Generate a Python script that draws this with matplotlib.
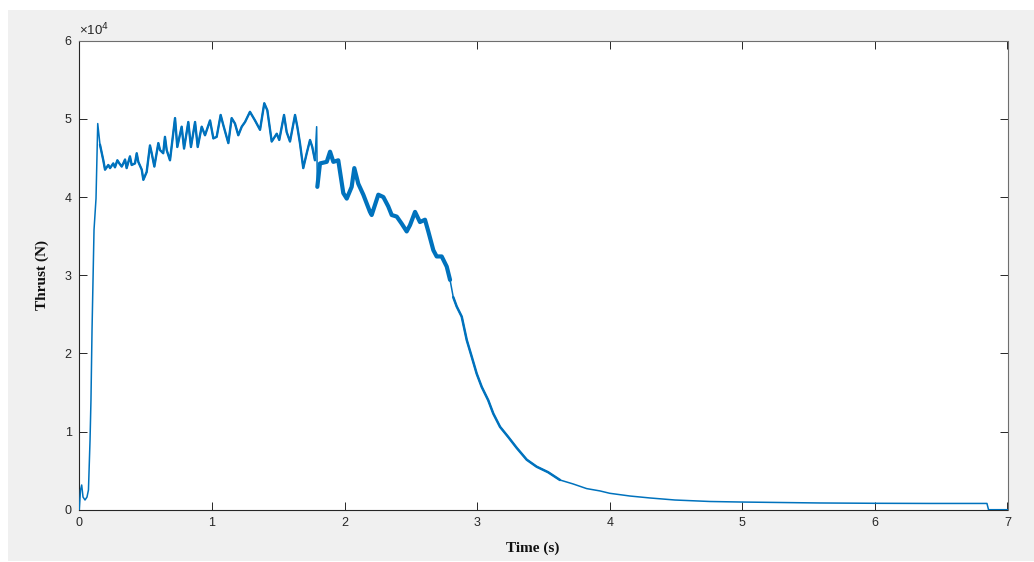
import numpy as np
import matplotlib
matplotlib.use("Agg")
import matplotlib.pyplot as plt
from matplotlib.patches import Rectangle

# Thrust curve (time in s, thrust in N)
time_s = [0.000, 0.009, 0.018, 0.028, 0.043, 0.058, 0.069, 0.081, 0.088, 0.096,
          0.111, 0.126, 0.139, 0.156, 0.181, 0.194, 0.219, 0.232, 0.256, 0.269,
          0.287, 0.302, 0.320, 0.332, 0.345, 0.357, 0.382, 0.395, 0.420, 0.433,
          0.445, 0.471, 0.483, 0.508, 0.533, 0.546, 0.566, 0.596, 0.609, 0.633,
          0.646, 0.659, 0.684, 0.722, 0.739, 0.772, 0.790, 0.822, 0.842, 0.873,
          0.893, 0.923, 0.948, 0.986, 1.011, 1.036, 1.066, 1.086, 1.124, 1.149,
          1.174, 1.199, 1.225, 1.250, 1.287, 1.325, 1.363, 1.395, 1.418, 1.451,
          1.489, 1.508, 1.544, 1.564, 1.589, 1.627, 1.644, 1.664, 1.689, 1.715,
          1.740, 1.757, 1.777, 1.790, 1.795, 1.815, 1.866, 1.891, 1.916, 1.953,
          1.991, 2.017, 2.054, 2.074, 2.104, 2.142, 2.192, 2.205, 2.255, 2.293,
          2.330, 2.356, 2.394, 2.431, 2.469, 2.494, 2.532, 2.569, 2.607, 2.632,
          2.670, 2.695, 2.733, 2.771, 2.796, 2.820, 2.846, 2.884, 2.922, 2.959,
          2.997, 3.035, 3.084, 3.122, 3.173, 3.235, 3.299, 3.374, 3.449, 3.535,
          3.625, 3.723, 3.826, 3.927, 4.000, 4.153, 4.304, 4.492, 4.756, 4.998,
          5.284, 5.586, 5.993, 6.415, 6.845, 6.857, 7.000]

thrust_N = [0, 2520, 3160, 1620, 1240, 1620, 2520, 8920, 14030, 23000,
            35800, 39800, 49400, 46700, 44700, 43500, 44100, 43700, 44300, 43800,
            44700, 44300, 43900, 44300, 44800, 43700, 45200, 44100, 44300, 45600,
            44500, 43500, 42200, 43200, 46600, 45600, 43900, 46900, 46000, 45600,
            47700, 46000, 44700, 50100, 46400, 49000, 46200, 49600, 46400, 49600,
            46400, 49000, 47900, 49800, 47500, 47700, 50500, 49200, 46900, 50100,
            49400, 47900, 49000, 49600, 50900, 49800, 48600, 52000, 51100, 47100,
            48100, 47300, 50500, 48300, 47100, 50500, 49000, 46900, 43700, 45600,
            47300, 46400, 44700, 49000, 41300, 44300, 44500, 45800, 44500, 44700,
            40500, 39800, 41300, 43700, 41700, 40300, 38100, 37700, 40300, 40000,
            38800, 37700, 37500, 36600, 35600, 36400, 38100, 36800, 37100, 35600,
            33200, 32400, 32400, 31100, 29400, 27200, 26000, 24700, 21700, 19600,
            17400, 15700, 14000, 12300, 10600, 9300, 7900, 6400, 5500, 4800,
            3800, 3300, 2700, 2400, 2100, 1750, 1500, 1240, 1050, 980,
            920, 860, 820, 800, 800, 0, 0]

x_ticks = [0, 1, 2, 3, 4, 5, 6, 7]
y_ticks = [0, 10000, 20000, 30000, 40000, 50000, 60000]
y_tick_labels = ["0", "1", "2", "3", "4", "5", "6"]

LINE = "#0072BD"
AXC = "#262626"

fig = plt.figure(figsize=(10.34, 5.62), dpi=100, facecolor="white")
bg = Rectangle((8 / 1034, 1 / 562), 1 - 8 / 1034, (562 - 11) / 562,
               transform=fig.transFigure, facecolor="#f0f0f0",
               edgecolor="none", zorder=-10)
fig.add_artist(bg)

ax = fig.add_axes([79.3 / 1034, (562 - 509.7) / 562, 928.2 / 1034, 469.0 / 562])
ax.set_zorder(1)
ax.set_facecolor("white")

t = np.array(time_s)
f = np.array(thrust_N)

ax.plot(t, f, color=LINE, lw=1.1, solid_joinstyle="round", zorder=3)
# noisier (visually thicker) stretches of the trace
for lo, hi, lw in [(0.15, 1.78, 1.7), (1.795, 2.80, 3.0), (2.80, 3.65, 1.8)]:
    m = (t >= lo) & (t <= hi)
    ax.plot(t[m], f[m], color=LINE, lw=lw, solid_joinstyle="round",
            solid_capstyle="round", zorder=3)

ax.set_xlim(0, 7)
ax.set_ylim(0, 60000)
ax.set_xticks(x_ticks)
ax.set_xticklabels([str(v) for v in x_ticks])
ax.set_yticks(y_ticks)
ax.set_yticklabels(y_tick_labels)

for side in ["top", "right", "bottom", "left"]:
    ax.spines[side].set_color("#6e6e6e" if side in ("top", "right") else AXC)
    ax.spines[side].set_linewidth(0.8)

ax.tick_params(axis="both", direction="in", length=6, width=0.7, color=AXC,
               labelsize=9, labelcolor=AXC, top=True, right=True, pad=5.5)
for lab in ax.get_xticklabels() + ax.get_yticklabels():
    lab.set_family("Liberation Sans")

ax.text(0.0, 1.006, "\u00d710$^{4}$", transform=ax.transAxes, ha="left", va="bottom",
        fontsize=9.5, color=AXC, family="Liberation Sans")

ax.set_xlabel("Time (s)", fontsize=11, fontweight="bold", family="Liberation Serif",
              color="#111111")
ax.set_ylabel("Thrust (N)", fontsize=11, fontweight="bold", family="Liberation Serif",
              color="#111111")
ax.xaxis.set_label_coords(0.488, -0.068)
ax.yaxis.set_label_coords(-0.033, 0.5)

fig.savefig("out.png", dpi=100, facecolor=fig.get_facecolor())
